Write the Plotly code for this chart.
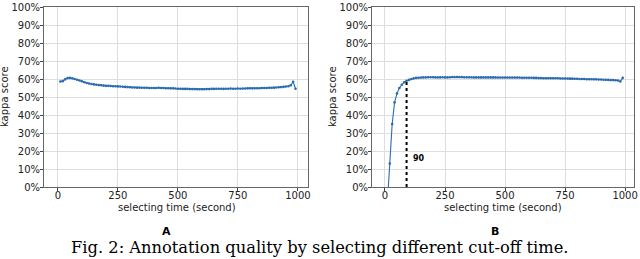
import plotly.graph_objects as go

time_s = [10, 20, 30, 40, 50, 60, 70, 80, 90, 100, 110, 120, 130, 140, 150, 160, 170, 180, 190, 200,
          210, 220, 230, 240, 250, 260, 270, 280, 290, 300, 310, 320, 330, 340, 350, 360, 370, 380, 390, 400,
          410, 420, 430, 440, 450, 460, 470, 480, 490, 500, 510, 520, 530, 540, 550, 560, 570, 580, 590, 600,
          610, 620, 630, 640, 650, 660, 670, 680, 690, 700, 710, 720, 730, 740, 750, 760, 770, 780, 790, 800,
          810, 820, 830, 840, 850, 860, 870, 880, 890, 900, 910, 920, 930, 940, 950, 960, 970, 980, 990]

kappa_A = [58.6, 58.8, 59.8, 60.5, 60.6, 60.4, 60.0, 59.6, 59.2, 58.7, 58.2, 57.8, 57.5, 57.2, 57.0, 56.8, 56.6, 56.5, 56.3, 56.2,
           56.2, 56.1, 56.0, 56.0, 55.9, 55.8, 55.7, 55.6, 55.5, 55.4, 55.3, 55.3, 55.2, 55.2, 55.1, 55.1, 55.1, 55.0, 55.0, 55.0,
           55.0, 55.1, 55.0, 55.0, 54.9, 54.9, 54.8, 54.8, 54.7, 54.6, 54.6, 54.5, 54.5, 54.5, 54.4, 54.4, 54.4, 54.3, 54.3, 54.3,
           54.3, 54.4, 54.4, 54.5, 54.5, 54.6, 54.6, 54.6, 54.5, 54.6, 54.6, 54.7, 54.6, 54.6, 54.7, 54.6, 54.7, 54.7, 54.8, 54.8,
           54.8, 54.9, 54.9, 54.9, 55.0, 55.0, 55.0, 55.1, 55.1, 55.2, 55.3, 55.4, 55.5, 55.6, 55.8, 56.0, 56.5, 58.5, 54.6]

kappa_B = [-9.0, 13.0, 35.0, 47.0, 52.0, 55.0, 56.8, 58.2, 59.0, 59.5, 60.0, 60.4, 60.6, 60.7, 60.8, 60.9, 60.9, 61.0, 61.0, 61.0,
           60.9, 60.9, 60.9, 61.0, 60.9, 60.9, 61.0, 61.1, 61.1, 61.1, 61.1, 61.1, 61.0, 61.0, 61.0, 61.0, 60.9, 60.9, 60.9, 60.9,
           60.9, 60.9, 60.9, 60.9, 60.9, 60.9, 60.8, 60.8, 60.8, 60.8, 60.8, 60.8, 60.8, 60.8, 60.8, 60.8, 60.7, 60.7, 60.7, 60.7,
           60.7, 60.6, 60.6, 60.5, 60.5, 60.4, 60.4, 60.4, 60.4, 60.4, 60.4, 60.4, 60.3, 60.3, 60.3, 60.3, 60.2, 60.2, 60.1, 60.1,
           60.0, 60.0, 60.0, 59.9, 59.9, 59.9, 59.8, 59.8, 59.7, 59.7, 59.6, 59.6, 59.5, 59.4, 59.4, 59.3, 59.2, 58.6, 60.6]

cutoff_time = 90
cutoff_kappa = 59.0

x_ticks = [0, 250, 500, 750, 1000]
y_ticks = [0, 10, 20, 30, 40, 50, 60, 70, 80, 90, 100]
y_tick_labels = [f"{v}%" for v in y_ticks]

LINE = "#2b6cb0"
FONT = "DejaVu Sans"

W, H = 640, 259


def px(ix):
    return ix / W


def py(iy):
    return 1 - iy / H


fig = go.Figure()
for vals, xa, ya in [(kappa_A, "x", "y"), (kappa_B, "x2", "y2")]:
    fig.add_trace(go.Scatter(x=time_s, y=vals, xaxis=xa, yaxis=ya, mode="lines+markers",
                             line=dict(color=LINE, width=1.1),
                             marker=dict(color=LINE, size=2.6), showlegend=False))

fig.add_shape(type="line", xref="x2", yref="y2", x0=cutoff_time, x1=cutoff_time, y0=0, y1=cutoff_kappa,
              line=dict(color="black", width=2, dash="dot"))
fig.add_annotation(xref="x2", yref="y2", x=cutoff_time + 20, y=16, text="<b>90</b>", showarrow=False,
                   xanchor="left", yanchor="middle", font=dict(family=FONT, size=8, color="black"))

axis_common = dict(showgrid=True, gridcolor="#dedede", gridwidth=1, showline=True, linecolor="#666666",
                   linewidth=1, mirror=True, ticks="outside", ticklen=3, tickcolor="#444444",
                   tickfont=dict(family=FONT, size=10, color="#222222"), zeroline=False, automargin=False,
                   ticklabeloverflow="allow")

y_dom = [py(187), py(7)]
fig.update_layout(
    width=W, height=H, margin=dict(l=0, r=0, t=0, b=0),
    paper_bgcolor="white", plot_bgcolor="white",
    xaxis=dict(domain=[px(44), px(308)], range=[-58, 1042], tickvals=x_ticks, anchor="y",
               ticklabelstandoff=-4, **axis_common),
    yaxis=dict(domain=y_dom, range=[0, 100], tickvals=y_ticks, ticktext=y_tick_labels, anchor="x",
               ticklabelstandoff=-2, **axis_common),
    xaxis2=dict(domain=[px(372), px(634)], range=[-54, 1037], tickvals=x_ticks, anchor="y2",
                ticklabelstandoff=-4, **axis_common),
    yaxis2=dict(domain=y_dom, range=[0, 100], tickvals=y_ticks, ticktext=y_tick_labels, anchor="x2",
                ticklabelstandoff=-2, **axis_common),
)

title_font = dict(family=FONT, size=10, color="#222")
for cx in [177, 503]:
    fig.add_annotation(xref="paper", yref="paper", x=px(cx), y=py(207), text="selecting time (second)",
                       xanchor="center", yanchor="middle", showarrow=False, font=title_font)
for cx in [5, 333]:
    fig.add_annotation(xref="paper", yref="paper", x=px(cx), y=py(97), text="kappa score", textangle=-90,
                       xanchor="center", yanchor="middle", showarrow=False, font=title_font)

for cx, lbl in [(166, "A"), (495, "B")]:
    fig.add_annotation(xref="paper", yref="paper", x=px(cx), y=py(231), text=f"<b>{lbl}</b>", showarrow=False,
                       xanchor="center", yanchor="middle", font=dict(family=FONT, size=11, color="black"))
fig.add_annotation(xref="paper", yref="paper", x=px(319), y=py(247),
                   text="Fig. 2: Annotation quality by selecting different cut-off time.", showarrow=False,
                   xanchor="center", yanchor="middle",
                   font=dict(family="DejaVu Serif", size=16.3, color="black"))

fig.write_html("out.html", config={"displayModeBar": False},
               post_script="document.body.style.margin='0';")
